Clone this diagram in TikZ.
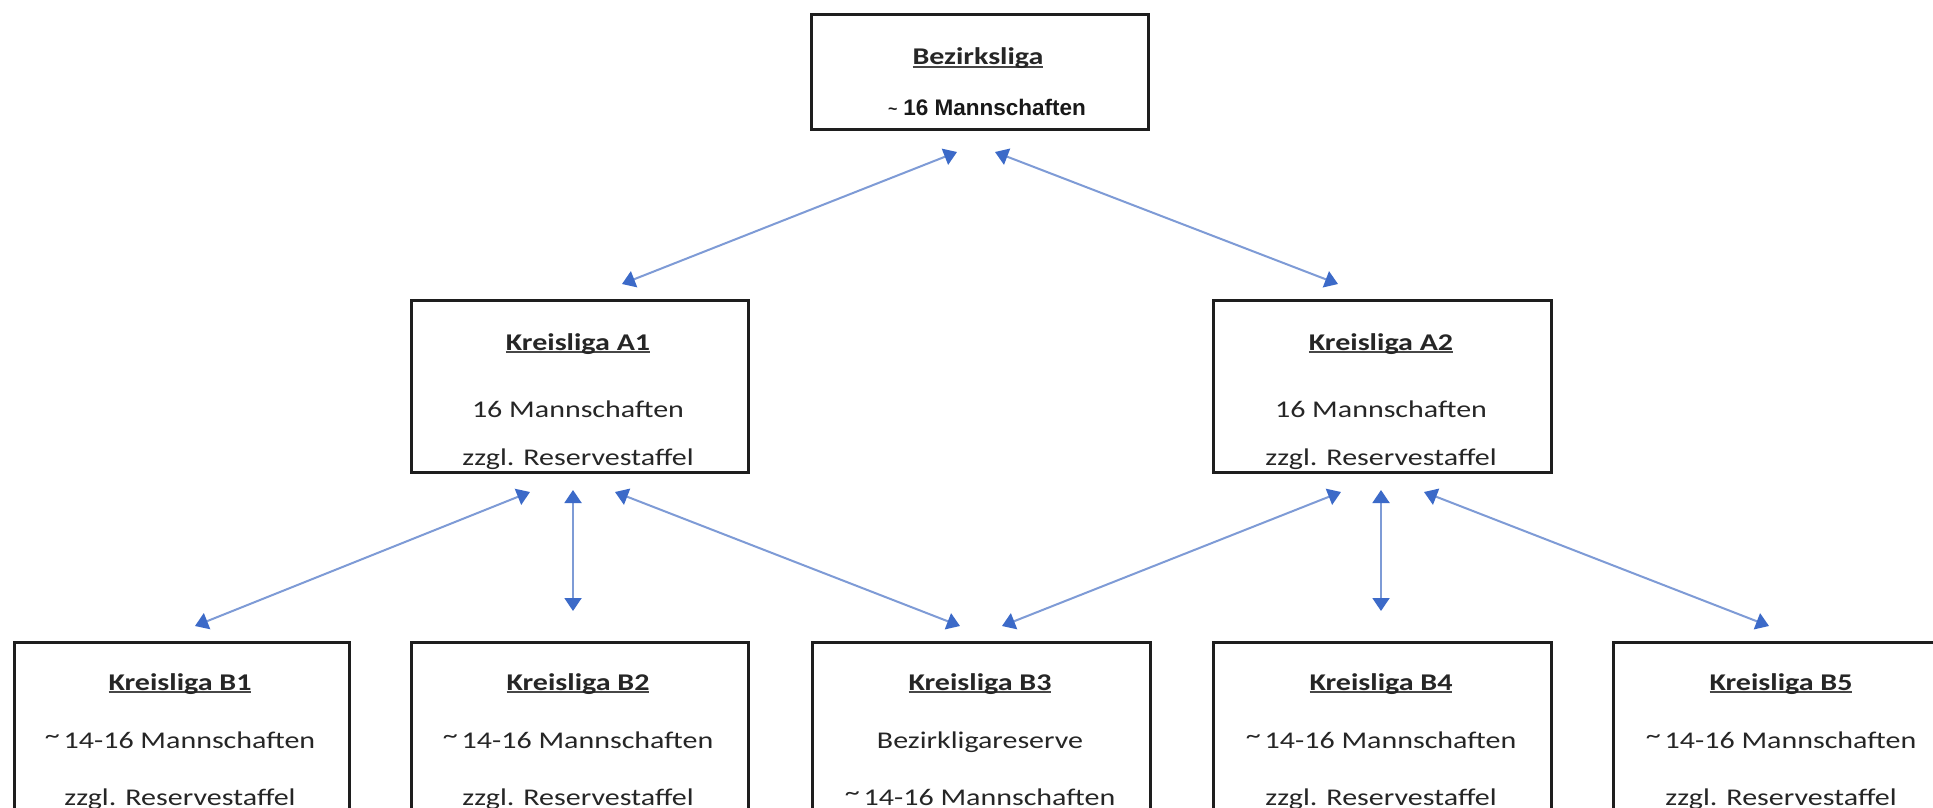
\documentclass[tikz,border=0pt]{standalone}
\usepackage{fontspec}
\usetikzlibrary{arrows.meta}
\newfontfamily\cf[FakeStretch=1.25]{Carlito}
\newfontfamily\af{Liberation Sans}
\definecolor{txt}{HTML}{262626}
\definecolor{lnblue}{HTML}{7E9BD6}
\definecolor{tipblue}{HTML}{3C6AC8}
\definecolor{boxc}{HTML}{1E1E1E}
\newcommand\ulbox[1]{\setbox0\hbox{#1}\rlap{\color{txt!85}\rule[-3pt]{\wd0}{2pt}}\box0}
\begin{document}
\begin{tikzpicture}[x=1pt,y=-1pt,
  lbox/.style={draw=boxc, line width=3pt, fill=none, inner sep=0pt,
    minimum width=337pt, anchor=north west},
  ttl/.style={inner sep=0pt, anchor=base, text=txt,
    font=\cf\bfseries\fontsize{24}{28}\selectfont},
  body/.style={inner sep=0pt, anchor=base, text=txt,
    font=\cf\fontsize{24}{28}\selectfont},
  abody/.style={inner sep=0pt, anchor=base, text=black!90,
    font=\af\bfseries\fontsize{22.5}{26}\selectfont},
  conn/.style={draw=lnblue, line width=2pt,
    arrows={Triangle[width=17pt,length=13pt,color=tipblue]-Triangle[width=17pt,length=13pt,color=tipblue]}}
]
\useasboundingbox (0,0) rectangle (1933,808);
\fill[white] (0,0) rectangle (1933,808);

% boxes
\node[lbox, minimum height=115pt] (bz) at (810,13) {};
\node[lbox, minimum height=172pt] (a1) at (410,299) {};
\node[lbox, minimum height=172pt, minimum width=338pt] (a2) at (1212,299) {};
\node[lbox, minimum height=200pt, minimum width=335pt] (b1) at (13,641) {};
\node[lbox, minimum height=200pt] (b2) at (410,641) {};
\node[lbox, minimum height=200pt, minimum width=338pt] (b3) at (811,641) {};
\node[lbox, minimum height=200pt, minimum width=338pt] (b4) at (1212,641) {};
\node[lbox, minimum height=200pt] (b5) at (1612,641) {};

% texts
\node[ttl] (bzt) at (978,65) {\ulbox{Bezirksliga}};
\node[abody] (bzm) at (987,115) {{\fontsize{16}{20}\selectfont\raisebox{1pt}{\textasciitilde}}\hspace{6pt}16 Mannschaften};

\node[ttl] (a1t) at (578,350) {\ulbox{Kreisliga A1}};
\node[body] (a1m) at (578,417) {16 Mannschaften};
\node[body] (a1r) at (578,465) {zzgl. Reservestaffel};

\node[ttl] (a2t) at (1381,350) {\ulbox{Kreisliga A2}};
\node[body] (a2m) at (1381,417) {16 Mannschaften};
\node[body] (a2r) at (1381,465) {zzgl. Reservestaffel};

\node[ttl] (b1t) at (180,690) {\ulbox{Kreisliga B1}};
\node[body] (b1m) at (180,748) {\raisebox{5pt}{\textasciitilde}\,14-16 Mannschaften};
\node[body] (b1r) at (180,805) {zzgl. Reservestaffel};

\node[ttl] (b2t) at (578,690) {\ulbox{Kreisliga B2}};
\node[body] (b2m) at (578,748) {\raisebox{5pt}{\textasciitilde}\,14-16 Mannschaften};
\node[body] (b2r) at (578,805) {zzgl. Reservestaffel};

\node[ttl] (b3t) at (980,690) {\ulbox{Kreisliga B3}};
\node[body] (b3m) at (980,748) {Bezirkligareserve};
\node[body] (b3r) at (980,805) {\raisebox{5pt}{\textasciitilde}\,14-16 Mannschaften};

\node[ttl] (b4t) at (1381,690) {\ulbox{Kreisliga B4}};
\node[body] (b4m) at (1381,748) {\raisebox{5pt}{\textasciitilde}\,14-16 Mannschaften};
\node[body] (b4r) at (1381,805) {zzgl. Reservestaffel};

\node[ttl] (b5t) at (1781,690) {\ulbox{Kreisliga B5}};
\node[body] (b5m) at (1781,748) {\raisebox{5pt}{\textasciitilde}\,14-16 Mannschaften};
\node[body] (b5r) at (1781,805) {zzgl. Reservestaffel};

% connector end points
\coordinate (bzl) at (957,152);
\coordinate (bzr) at (995,152);
\coordinate (a1top) at (622,284);
\coordinate (a2top) at (1338,284);
\coordinate (a1l) at (530,492);
\coordinate (a1m0) at (573,490);
\coordinate (a1rr) at (615,492);
\coordinate (a2l) at (1341,492);
\coordinate (a2m0) at (1381,490);
\coordinate (a2rr) at (1424,492);
\coordinate (b1top) at (195,626);
\coordinate (b2top) at (573,611);
\coordinate (b3l) at (960,626);
\coordinate (b3r) at (1002,626);
\coordinate (b4top) at (1381,611);
\coordinate (b5top) at (1769,626);

\draw[conn] (bzl) -- (a1top);
\draw[conn] (bzr) -- (a2top);
\draw[conn] (a1l) -- (b1top);
\draw[conn] (a1m0) -- (b2top);
\draw[conn] (a1rr) -- (b3l);
\draw[conn] (a2l) -- (b3r);
\draw[conn] (a2m0) -- (b4top);
\draw[conn] (a2rr) -- (b5top);
\end{tikzpicture}
\end{document}
